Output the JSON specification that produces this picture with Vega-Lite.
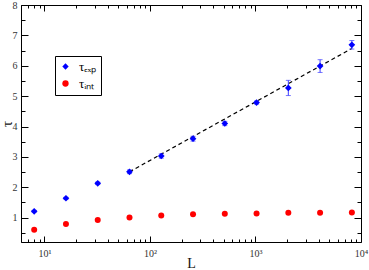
{
  "$schema": "https://vega.github.io/schema/vega-lite/v6.json",
  "width": 340,
  "height": 237,
  "autosize": {"type": "none"},
  "padding": {"left": 21, "top": 5, "right": 8, "bottom": 28},
  "background": "white",
  "config": {
    "view": {"stroke": "black", "strokeWidth": 1},
    "font": "Liberation Serif",
    "axis": {"grid": false, "domainColor": "black", "tickColor": "black", "labelColor": "#333", "labelFont": "Liberation Serif", "titleFont": "Liberation Serif", "titleFontWeight": "normal", "labelFontSize": 10, "titleFontSize": 15, "titleColor": "#111", "labelOverlap": false, "labelFlush": false},
    "legend": {"labelFont": "Liberation Serif"}
  },
  "datasets": {
    "pts": [
      {"series": "τₑₓₚ", "L": 8, "tau": 1.21, "lo": 1.18, "hi": 1.24},
      {"series": "τₑₓₚ", "L": 16, "tau": 1.64, "lo": 1.61, "hi": 1.67},
      {"series": "τₑₓₚ", "L": 32, "tau": 2.13, "lo": 2.09, "hi": 2.17},
      {"series": "τₑₓₚ", "L": 64, "tau": 2.51, "lo": 2.45, "hi": 2.57},
      {"series": "τₑₓₚ", "L": 128, "tau": 3.03, "lo": 2.96, "hi": 3.10},
      {"series": "τₑₓₚ", "L": 256, "tau": 3.60, "lo": 3.52, "hi": 3.68},
      {"series": "τₑₓₚ", "L": 512, "tau": 4.10, "lo": 4.03, "hi": 4.17},
      {"series": "τₑₓₚ", "L": 1024, "tau": 4.79, "lo": 4.74, "hi": 4.84},
      {"series": "τₑₓₚ", "L": 2048, "tau": 5.27, "lo": 5.02, "hi": 5.52},
      {"series": "τₑₓₚ", "L": 4096, "tau": 5.99, "lo": 5.78, "hi": 6.20},
      {"series": "τₑₓₚ", "L": 8192, "tau": 6.69, "lo": 6.55, "hi": 6.83},
      {"series": "τᵢₙₜ", "L": 8, "tau": 0.60},
      {"series": "τᵢₙₜ", "L": 16, "tau": 0.79},
      {"series": "τᵢₙₜ", "L": 32, "tau": 0.92},
      {"series": "τᵢₙₜ", "L": 64, "tau": 1.01},
      {"series": "τᵢₙₜ", "L": 128, "tau": 1.07},
      {"series": "τᵢₙₜ", "L": 256, "tau": 1.11},
      {"series": "τᵢₙₜ", "L": 512, "tau": 1.13},
      {"series": "τᵢₙₜ", "L": 1024, "tau": 1.14},
      {"series": "τᵢₙₜ", "L": 2048, "tau": 1.16},
      {"series": "τᵢₙₜ", "L": 4096, "tau": 1.16},
      {"series": "τᵢₙₜ", "L": 8192, "tau": 1.17}
    ],
    "fit": [
      {"L": 64, "tau": 2.51},
      {"L": 8192, "tau": 6.57}
    ]
  },
  "resolve": {"scale": {"x": "independent", "y": "independent"}},
  "layer": [
    {
      "data": {"name": "fit"},
      "mark": {"type": "line", "color": "black", "strokeDash": [4, 3], "strokeWidth": 1.2},
      "encoding": {
        "x": {"field": "L", "type": "quantitative", "scale": {"type": "log", "domain": [6, 10000], "nice": false},
          "axis": {"orient": "top", "title": null, "labels": false, "domain": false,
            "values": [6,7,8,9,10,20,30,40,50,60,70,80,90,100,200,300,400,500,600,700,800,900,1000,2000,3000,4000,5000,6000,7000,8000,9000,10000],
            "tickSize": {"condition": {"test": "datum.value==10||datum.value==100||datum.value==1000||datum.value==10000", "value": -6}, "value": -3}}},
        "y": {"field": "tau", "type": "quantitative", "scale": {"domain": [0.2, 8], "nice": false, "zero": false},
          "axis": {"orient": "right", "title": null, "labels": false, "domain": false,
            "values": [0.5,1,1.5,2,2.5,3,3.5,4,4.5,5,5.5,6,6.5,7,7.5,8],
            "tickSize": {"condition": {"test": "datum.value%1==0", "value": -7}, "value": -4}}}
      }
    },
    {
      "data": {"name": "pts"},
      "encoding": {
        "x": {"field": "L", "type": "quantitative", "scale": {"type": "log", "domain": [6, 10000], "nice": false},
          "axis": {"orient": "bottom", "title": "L", "titleY": 25, "titleBaseline": "alphabetic", "titleFontSize": 14, "domain": false, "labelPadding": 12,
            "values": [6,7,8,9,10,20,30,40,50,60,70,80,90,100,200,300,400,500,600,700,800,900,1000,2000,3000,4000,5000,6000,7000,8000,9000,10000],
            "labelExpr": "datum.value==10?'10¹':datum.value==100?'10²':datum.value==1000?'10³':datum.value==10000?'10⁴':''",
            "tickSize": {"condition": {"test": "datum.value==10||datum.value==100||datum.value==1000||datum.value==10000", "value": -6}, "value": -3}}},
        "y": {"field": "tau", "type": "quantitative", "scale": {"domain": [0.2, 8], "nice": false, "zero": false},
          "axis": {"orient": "left", "title": "τ", "titleX": -15, "titleBaseline": "middle", "titleFontSize": 15, "domain": false, "labelPadding": 11,
            "values": [0.5,1,1.5,2,2.5,3,3.5,4,4.5,5,5.5,6,6.5,7,7.5,8],
            "labelExpr": "datum.value%1==0 ? format(datum.value, 'd') : ''",
            "tickSize": {"condition": {"test": "datum.value%1==0", "value": -7}, "value": -4}}}
      },
      "layer": [
        {
          "transform": [{"filter": "datum.hi != null"}],
          "mark": {"type": "errorbar", "color": "#3a3aff", "ticks": {"size": 5}, "thickness": 1},
          "encoding": {"y": {"field": "lo", "type": "quantitative"}, "y2": {"field": "hi"}}
        },
        {
          "transform": [{"filter": "datum.series == 'τₑₓₚ'"}],
          "mark": {"type": "point", "filled": true, "opacity": 1},
          "encoding": {
            "color": {"field": "series", "type": "nominal", "scale": {"domain": ["τₑₓₚ", "τᵢₙₜ"], "range": ["#0000ff", "#ff0000"]},
              "legend": {"orient": "none", "legendX": 34, "legendY": 51, "title": null, "strokeColor": "black", "fillColor": "white", "padding": 4, "labelFontSize": 13, "symbolSize": 40, "rowPadding": 3, "labelOffset": 7}},
            "shape": {"field": "series", "type": "nominal", "scale": {"domain": ["τₑₓₚ", "τᵢₙₜ"], "range": ["diamond", "circle"]}},
            "size": {"value": 45}
          }
        },
        {
          "transform": [{"filter": "datum.series == 'τᵢₙₜ'"}],
          "mark": {"type": "point", "filled": true, "opacity": 1},
          "encoding": {
            "color": {"field": "series", "type": "nominal"},
            "shape": {"field": "series", "type": "nominal"},
            "size": {"value": 36}
          }
        }
      ]
    }
  ]
}
